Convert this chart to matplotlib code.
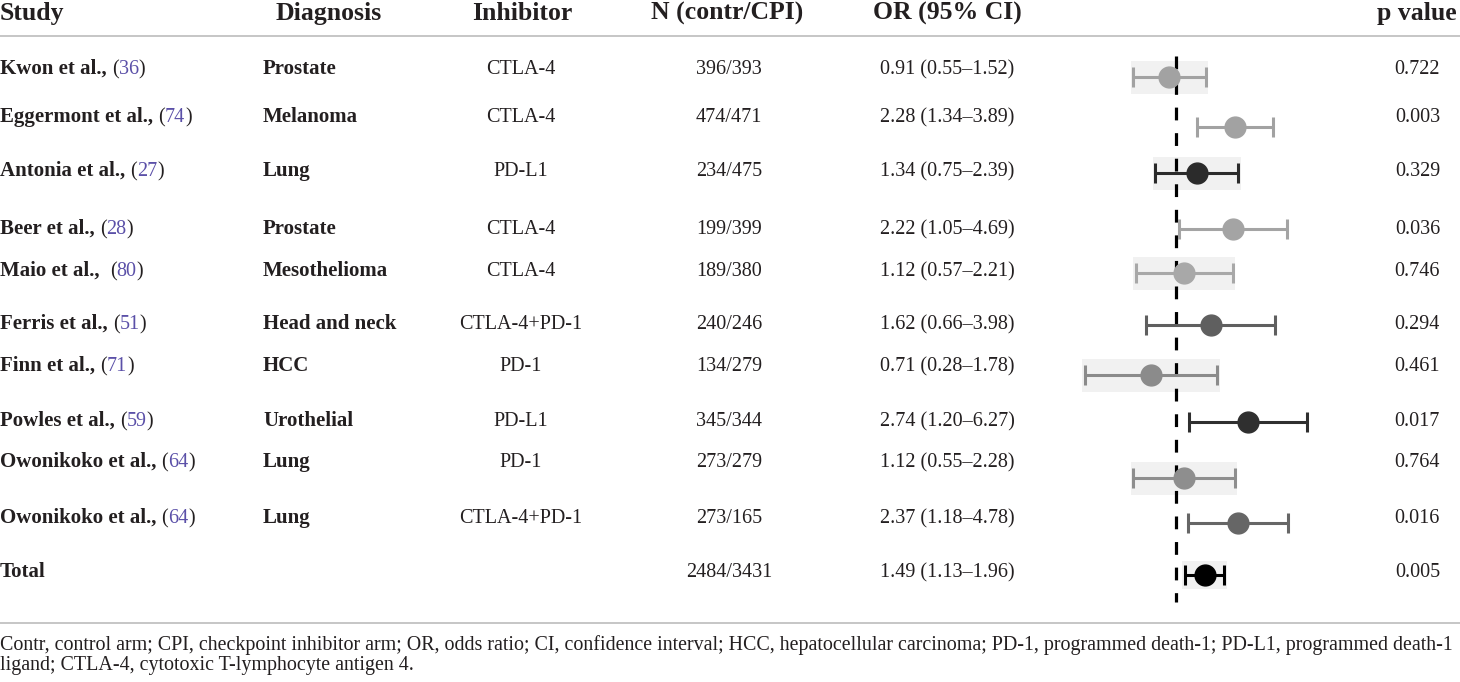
import matplotlib
matplotlib.use("Agg")
import matplotlib.pyplot as plt

plt.rcParams["font.family"] = ["Liberation Serif", "DejaVu Serif"]

# table data
studies = ["Kwon et al., ", "Eggermont et al., ", "Antonia et al., ", "Beer et al., ",
           "Maio et al.,  ", "Ferris et al., ", "Finn et al., ", "Powles et al., ",
           "Owonikoko et al., ", "Owonikoko et al., ", "Total"]
refs = ["36", "74", "27", "28", "80", "51", "71", "59", "64", "64", ""]
diagnosis = ["Prostate", "Melanoma", "Lung", "Prostate", "Mesothelioma", "Head and neck",
             "HCC", "Urothelial", "Lung", "Lung", ""]
inhibitor = ["CTLA-4", "CTLA-4", "PD-L1", "CTLA-4", "CTLA-4", "CTLA-4+PD-1", "PD-1",
             "PD-L1", "PD-1", "CTLA-4+PD-1", ""]
n_contr = [396, 474, 234, 199, 189, 240, 134, 345, 273, 273, 2484]
n_cpi = [393, 471, 475, 399, 380, 246, 279, 344, 279, 165, 3431]
odds = [0.91, 2.28, 1.34, 2.22, 1.12, 1.62, 0.71, 2.74, 1.12, 2.37, 1.49]
ci_low = [0.55, 1.34, 0.75, 1.05, 0.57, 0.66, 0.28, 1.20, 0.55, 1.18, 1.13]
ci_high = [1.52, 3.89, 2.39, 4.69, 2.21, 3.98, 1.78, 6.27, 2.28, 4.78, 1.96]
p_values = ["0.722", "0.003", "0.329", "0.036", "0.746", "0.294", "0.461", "0.017",
            "0.764", "0.016", "0.005"]
headers = ["Study", "Diagnosis", "Inhibitor", "N (contr/CPI)", "OR (95% CI)", "p value"]
footnote = ["Contr, control arm; CPI, checkpoint inhibitor arm; OR, odds ratio; CI, confidence "
            "interval; HCC, hepatocellular carcinoma; PD-1, programmed death-1; PD-L1, programmed death-1",
            "ligand; CTLA-4, cytotoxic T-lymphocyte antigen 4."]

# layout (pixels, figure is 1460 x 682)
base_y = [74, 122, 176, 234, 276, 329, 371, 426, 467, 523, 577]
mark_y = [77, 127, 173, 229, 273, 325, 375, 422, 478, 523, 575]
shaded = [True, False, True, False, True, False, True, False, True, False, True]
mark_colors = ["#a2a2a2", "#a2a2a2", "#2b2b2b", "#a4a4a4", "#a8a8a8", "#5f5f5f",
               "#8b8b8b", "#2f2f2f", "#8e8e8e", "#666666", "#000000"]
ink = "#231f20"
ref_color = "#5b50a8"
rule_color = "#c6c6c6"

fig = plt.figure(figsize=(14.6, 6.82), dpi=100)
ax = fig.add_axes([0, 0, 1, 1])
ax.set_xlim(0, 1460)
ax.set_ylim(682, 0)
ax.axis("off")

# header
hx = [(0, "left"), (329, "center"), (522, "center"), (727, "center"), (947, "center"), (1457, "right")]
for (x, ha), h in zip(hx, headers):
    ax.text(x, 20, h, ha=ha, va="baseline", fontsize=18.5, fontweight="bold", color=ink)

ax.plot([0, 1460], [36, 36], color=rule_color, lw=1.4)
ax.plot([0, 1460], [623, 623], color=rule_color, lw=1.4)

fs_b = 15
fs_r = 14.5
for i in range(len(studies)):
    y = base_y[i]
    name = studies[i].rstrip()
    t = ax.text(0, y, name, ha="left", va="baseline", fontsize=fs_b, fontweight="bold", color=ink)
    if refs[i]:
        gap = (len(studies[i]) - len(name)) * 0.25 * fs_b
        p1 = ax.annotate("(", xy=(1, 0), xycoords=t, xytext=(gap, 0), textcoords="offset points",
                         ha="left", va="bottom", fontsize=fs_r, color=ink)
        p2 = ax.annotate(refs[i], xy=(1, 0), xycoords=p1, ha="left", va="bottom",
                         fontsize=fs_r, color=ref_color)
        ax.annotate(")", xy=(1, 0), xycoords=p2, ha="left", va="bottom", fontsize=fs_r, color=ink)
    ax.text(263, y, diagnosis[i], ha="left", va="baseline", fontsize=fs_b, fontweight="bold", color=ink)
    ax.text(521, y, inhibitor[i], ha="center", va="baseline", fontsize=fs_r, color=ink)
    ax.text(729, y, f"{n_contr[i]}/{n_cpi[i]}", ha="center", va="baseline", fontsize=fs_r, color=ink)
    ax.text(947, y, f"{odds[i]:.2f} ({ci_low[i]:.2f}\u2013{ci_high[i]:.2f})", ha="center",
            va="baseline", fontsize=fs_r, color=ink)
    ax.text(1440, y, p_values[i], ha="right", va="baseline", fontsize=fs_r, color=ink)

ax.text(0, 650, footnote[0], ha="left", va="baseline", fontsize=14.4, color=ink)
ax.text(0, 670, footnote[1], ha="left", va="baseline", fontsize=14.4, color=ink)

# forest plot, log scale of OR
fax = fig.add_axes([1060 / 1460, 0, 280 / 1460, 1])
fax.patch.set_alpha(0)
fax.set_xscale("log")
fax.set_xlim(0.198, 9.88)
fax.set_ylim(682, 0)
fax.axis("off")

pad = 1.035
for i in range(len(odds)):
    c = mark_colors[i]
    if shaded[i]:
        h = 28 if i == len(odds) - 1 else 33
        lo = ci_low[i] / pad
        fax.barh(mark_y[i], ci_high[i] * pad - lo, left=lo, height=h, color="#f1f1f1", zorder=1)
    fax.errorbar(odds[i], mark_y[i], xerr=[[odds[i] - ci_low[i]], [ci_high[i] - odds[i]]],
                 fmt="o", ms=15, color=c, mec=c, ecolor=c, elinewidth=2.2,
                 capsize=7, capthick=2.2, zorder=3)

fax.plot([1, 1], [56, 602], color="black", lw=2.3, ls=(0, (4, 4)), zorder=2)

fig.savefig("out.png", dpi=100)
